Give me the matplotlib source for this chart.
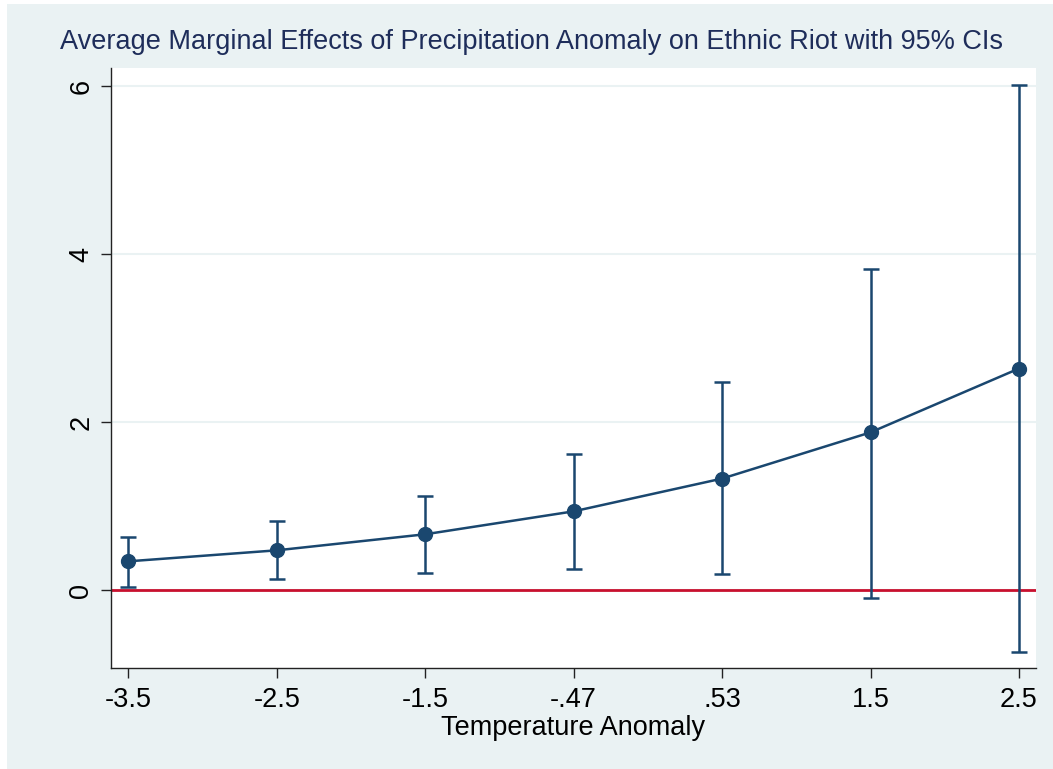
import numpy as np
import matplotlib.pyplot as plt
from matplotlib.patches import Rectangle

# temperature anomaly levels (categorical positions on the x axis)
temp_labels = ['-3.5', '-2.5', '-1.5', '-.47', '.53', '1.5', '2.5']
# average marginal effect and 95% CI bounds
ame = [0.345, 0.476, 0.667, 0.94, 1.33, 1.88, 2.64]
ci_low = [0.04, 0.13, 0.21, 0.25, 0.19, -0.095, -0.73]
ci_high = [0.63, 0.82, 1.12, 1.62, 2.48, 3.83, 6.01]
y_ticks = [0, 2, 4, 6]

navy = '#1a476f'
bg = '#eaf2f3'

plt.rcParams['font.family'] = ['Liberation Sans', 'DejaVu Sans']

fig = plt.figure(figsize=(10.53, 7.69), dpi=100, facecolor='white')
# outer graph region (slight white margin at top and left)
fig.patches.append(Rectangle((7 / 1053, 0), 1, 1 - 4 / 769, transform=fig.transFigure,
                             facecolor=bg, edgecolor='none', zorder=-10))

ax = fig.add_axes([111 / 1053, 1 - 668 / 769, (1036 - 111) / 1053, (668 - 68) / 769])
ax.set_facecolor('white')

x = np.arange(len(temp_labels))
ame = np.array(ame)
yerr = [ame - np.array(ci_low), np.array(ci_high) - ame]

ax.axhline(0, color='#c8102e', lw=2, zorder=2)
ax.errorbar(x, ame, yerr=yerr, fmt='none', ecolor=navy, elinewidth=1.8,
            capsize=6, capthick=1.8, zorder=3)
ax.plot(x, ame, color=navy, lw=1.8, marker='o', markersize=10, zorder=4)

ax.set_xlim(-0.117, 6.115)
ax.set_ylim(-0.925, 6.218)
ax.set_xticks(x)
ax.set_xticklabels(temp_labels)
ax.set_yticks(y_ticks)
ax.set_yticklabels([str(v) for v in y_ticks], rotation=90, va='center')
ax.tick_params(axis='both', direction='out', length=7, width=1, labelsize=19.5, colors='#222222',
               labelcolor='black', pad=5)
ax.tick_params(axis='x', pad=7)

ax.grid(axis='y', color=bg, lw=1.5, zorder=0)
ax.set_axisbelow(True)
for s in ['top', 'right']:
    ax.spines[s].set_visible(False)
for s in ['left', 'bottom']:
    ax.spines[s].set_color('#222222')
    ax.spines[s].set_linewidth(1)

ax.set_xlabel('Temperature Anomaly', fontsize=19.5, labelpad=1)
fig.text(0.5045, 1 - 42 / 769, 'Average Marginal Effects of Precipitation Anomaly on Ethnic Riot with 95% CIs',
         ha='center', va='center', fontsize=19.5, color='#1e2d5a')

fig.savefig('out.png', dpi=100, facecolor=fig.get_facecolor())
